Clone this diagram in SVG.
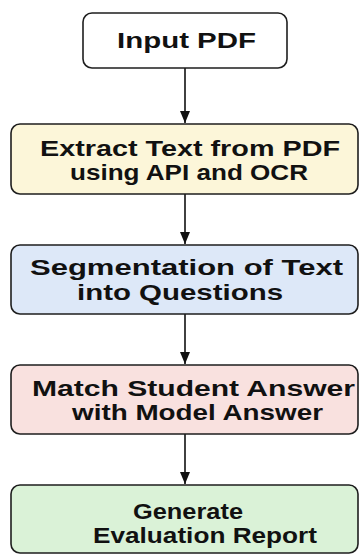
<svg xmlns="http://www.w3.org/2000/svg" width="359" height="556" viewBox="0 0 359 556">
  <defs>
    <marker id="ah" viewBox="0 0 12 10" refX="12" refY="5" markerWidth="12" markerHeight="10" markerUnits="userSpaceOnUse" orient="auto">
      <path d="M0,0 L12,5 L0,10 Z" fill="#111"/>
    </marker>
    <style>
      .box { stroke: #1e1e1e; stroke-width: 1.6; }
      .lbl { font-family: "Liberation Sans", Arial, sans-serif; font-weight: bold; font-size: 22px; fill: #111; }
      .conn { stroke: #111; stroke-width: 1.6; fill: none; }
    </style>
  </defs>
  <rect width="359" height="556" fill="#ffffff"/>
  <g id="connectors">
    <line class="conn" x1="185" y1="68" x2="185" y2="123" marker-end="url(#ah)"/>
    <line class="conn" x1="185" y1="194" x2="185" y2="244" marker-end="url(#ah)"/>
    <line class="conn" x1="185" y1="314" x2="185" y2="364" marker-end="url(#ah)"/>
    <line class="conn" x1="185" y1="434" x2="185" y2="484" marker-end="url(#ah)"/>
  </g>
  <g id="input-pdf">
    <rect class="box" x="83" y="13" width="204" height="55" rx="9" fill="#ffffff"/>
    <text class="lbl" x="117" y="48" textLength="139" lengthAdjust="spacingAndGlyphs">Input PDF</text>
  </g>
  <g id="extract-text">
    <rect class="box" x="11" y="124" width="347" height="70" rx="9" fill="#fcf6d9"/>
    <text class="lbl" x="40" y="156" textLength="300" lengthAdjust="spacingAndGlyphs">Extract Text from PDF</text>
    <text class="lbl" x="70" y="180" textLength="238" lengthAdjust="spacingAndGlyphs">using API and OCR</text>
  </g>
  <g id="segmentation">
    <rect class="box" x="11" y="245" width="347" height="69" rx="9" fill="#dde8f8"/>
    <text class="lbl" x="30" y="275" textLength="313" lengthAdjust="spacingAndGlyphs">Segmentation of Text</text>
    <text class="lbl" x="77" y="300" textLength="206" lengthAdjust="spacingAndGlyphs">into Questions</text>
  </g>
  <g id="match-answer">
    <rect class="box" x="11" y="365" width="347" height="69" rx="9" fill="#f9e1df"/>
    <text class="lbl" x="32" y="396" textLength="323" lengthAdjust="spacingAndGlyphs">Match Student Answer</text>
    <text class="lbl" x="72" y="420" textLength="251" lengthAdjust="spacingAndGlyphs">with Model Answer</text>
  </g>
  <g id="generate-report">
    <rect class="box" x="11" y="485" width="347" height="68" rx="9" fill="#daf2d7"/>
    <text class="lbl" x="133" y="519" textLength="110" lengthAdjust="spacingAndGlyphs">Generate</text>
    <text class="lbl" x="93" y="543" textLength="224" lengthAdjust="spacingAndGlyphs">Evaluation Report</text>
  </g>
</svg>
